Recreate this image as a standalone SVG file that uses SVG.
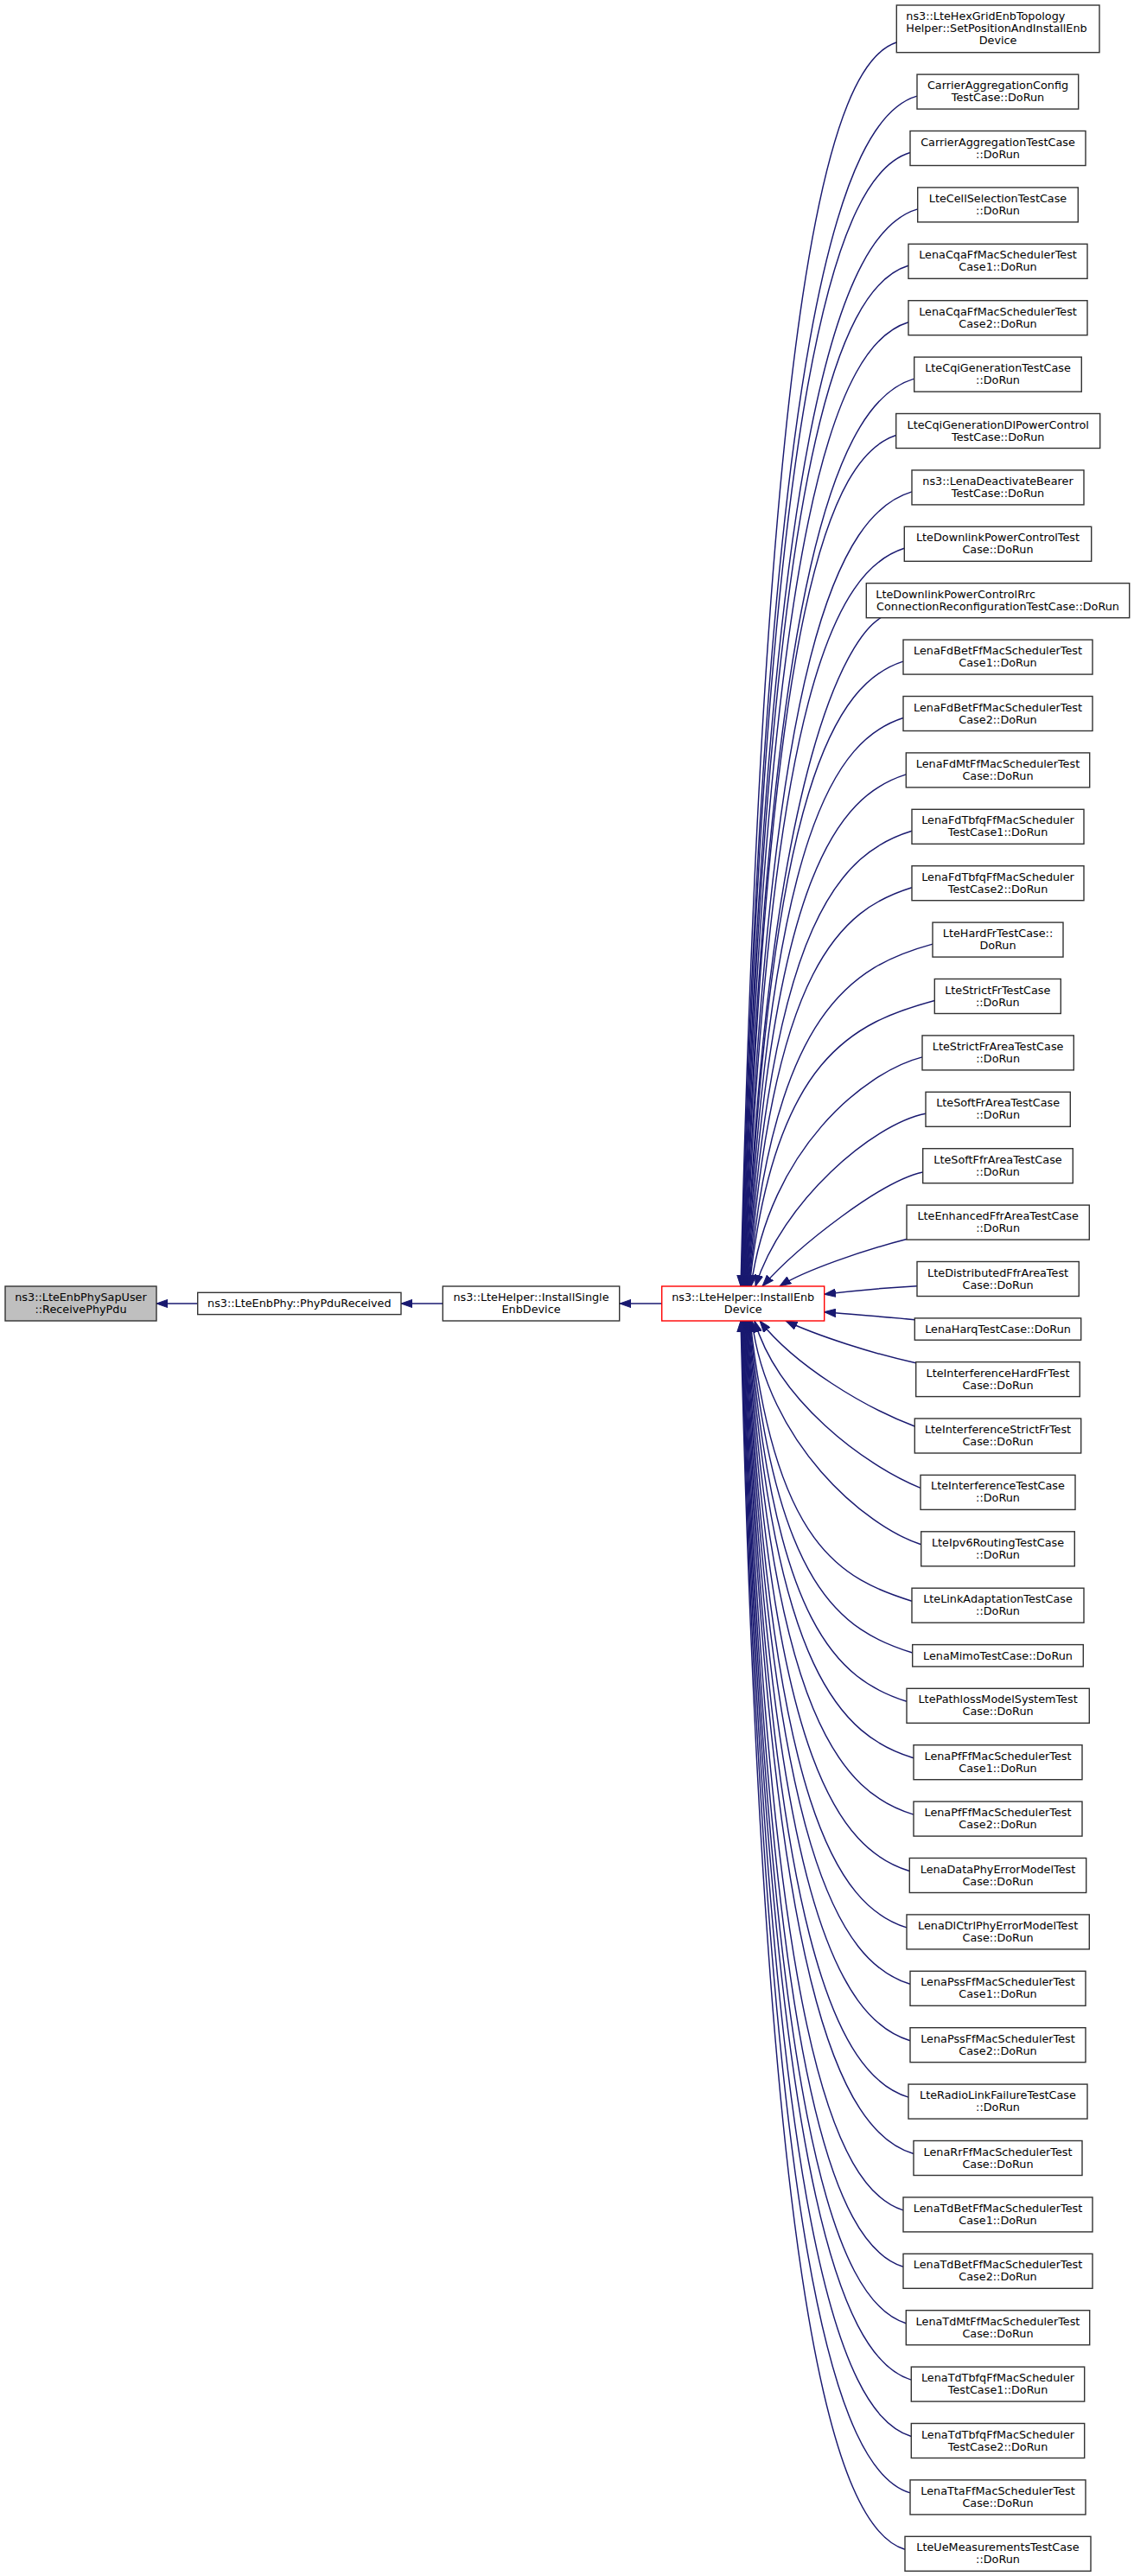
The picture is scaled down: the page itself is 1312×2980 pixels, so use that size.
<svg xmlns="http://www.w3.org/2000/svg" width="1312" height="2980" viewBox="0 0 1312 2980">
<style>
.box{fill:#ffffff;stroke:#333333;stroke-width:1.4}
.root{fill:#bfbfbf;stroke:#333333;stroke-width:1.4}
.main{fill:#ffffff;stroke:#ff0000;stroke-width:1.4}
.t{font-family:"DejaVu Sans","Liberation Sans",sans-serif;font-size:12.8px;fill:#000000;text-anchor:middle}
.s{text-anchor:start}
.e{fill:none;stroke:#191970;stroke-width:1.45;marker-end:url(#ah)}
</style>
<defs>
<marker id="ah" markerUnits="userSpaceOnUse" markerWidth="14" markerHeight="10" viewBox="0 0 14 10" refX="13.3" refY="5" orient="auto">
<path d="M0,0.3 L13.3,5 L0,9.7 Z" fill="#191970" stroke="#191970" stroke-width="1"/>
</marker>
</defs>
<rect x="0" y="0" width="1312" height="2980" fill="#ffffff"/>
<g id="edges">
<path class="e" d="M766,1508 L717,1508"/>
<path class="e" d="M512.3,1508 L464,1508"/>
<path class="e" d="M228.7,1508 L181,1508"/>
<path class="e" d="M1037.3,49 C959.8,74 885,329.6 857,1488"/>
<path class="e" d="M1061,111.1 C973.5,136.1 885.6,379.6 857.6,1488"/>
<path class="e" d="M1053,176.5 C969.2,201.5 886.2,432.2 858.2,1488"/>
<path class="e" d="M1061.7,241.9 C974.5,266.9 886.8,484.9 858.8,1488"/>
<path class="e" d="M1051,307.3 C968.6,332.3 887.4,537.5 859.4,1488"/>
<path class="e" d="M1051,372.7 C968.9,397.7 888,590.2 860,1488"/>
<path class="e" d="M1057.7,438.1 C972.9,463.1 888.6,642.8 860.6,1488"/>
<path class="e" d="M1036.7,503.5 C961.2,528.5 889.2,695.5 861.2,1488"/>
<path class="e" d="M1055,568.9 C971.9,593.9 889.8,748.1 861.8,1488"/>
<path class="e" d="M1046.3,634.3 C967.2,659.3 890.4,800.8 862.4,1488"/>
<path class="e" d="M1019,714.7 C985,735 891,865.5 863,1488"/>
<path class="e" d="M1045,765.1 C967,790.1 891.6,906.1 863.6,1488"/>
<path class="e" d="M1045,830.5 C967.3,855.5 892.2,958.7 864.2,1488"/>
<path class="e" d="M1048.3,895.9 C969.4,920.9 892.8,1011.4 864.8,1488"/>
<path class="e" d="M1055,961.3 C973.5,986.3 893.4,1064 865.4,1488"/>
<path class="e" d="M1055,1026.7 C973.7,1051.7 894,1116.7 866,1488"/>
<path class="e" d="M1079,1092.1 C987.7,1117.1 894.6,1169.3 866.6,1488"/>
<path class="e" d="M1081.3,1157.5 C989.2,1182.5 895.2,1221.9 867.2,1488"/>
<path class="e" d="M1067,1222.9 C1000,1240 890,1330 869,1488"/>
<path class="e" d="M1071,1288.3 C1010,1300 905,1390 874,1488"/>
<path class="e" d="M1067.7,1356 C1020,1366 925,1440 882,1488"/>
<path class="e" d="M1049,1433.5 C1000,1446 930,1470 902,1488"/>
<path class="e" d="M1061,1487.7 C1020,1490 980,1494 953.7,1497.3"/>
<path class="e" d="M1058.3,1526.7 C1020,1523 980,1520 953.7,1517.7"/>
<path class="e" d="M1059.7,1576.7 C1010,1566 945,1545 909,1528"/>
<path class="e" d="M1058.3,1650 C1000,1628 920,1580 879,1528"/>
<path class="e" d="M1065,1721.4 C1000,1695 900,1620 873,1528"/>
<path class="e" d="M1065.7,1786.8 C1000,1765 888,1670 870,1528"/>
<path class="e" d="M1055,1852.2 C974.6,1827.2 896,1789 868,1528"/>
<path class="e" d="M1055.7,1912 C974.7,1887 895.4,1837.1 867.4,1528"/>
<path class="e" d="M1049,1968.3 C970.6,1943.3 894.7,1882.4 866.7,1528"/>
<path class="e" d="M1057,2033.7 C974.9,2008.7 894.1,1935.1 866.1,1528"/>
<path class="e" d="M1057,2099.1 C974.6,2074.1 893.4,1987.7 865.4,1528"/>
<path class="e" d="M1052.3,2164.5 C971.7,2139.5 892.8,2040.4 864.8,1528"/>
<path class="e" d="M1049,2229.9 C969.5,2204.9 892.1,2093 864.1,1528"/>
<path class="e" d="M1053,2295.3 C971.5,2270.3 891.5,2145.7 863.5,1528"/>
<path class="e" d="M1053,2360.7 C971.2,2335.7 890.8,2198.3 862.8,1528"/>
<path class="e" d="M1051,2426.1 C969.8,2401.1 890.2,2251 862.2,1528"/>
<path class="e" d="M1057,2491.5 C972.9,2466.5 889.5,2303.6 861.5,1528"/>
<path class="e" d="M1045,2556.9 C965.8,2531.9 888.9,2356.3 860.9,1528"/>
<path class="e" d="M1045,2622.3 C965.5,2597.3 888.2,2408.9 860.2,1528"/>
<path class="e" d="M1048.3,2687.7 C967.2,2662.7 887.6,2461.6 859.6,1528"/>
<path class="e" d="M1054.3,2753.1 C970.3,2728.1 886.9,2514.2 858.9,1528"/>
<path class="e" d="M1054.3,2818.5 C970,2793.5 886.3,2566.9 858.3,1528"/>
<path class="e" d="M1053,2883.9 C969,2858.9 885.6,2619.5 857.6,1528"/>
<path class="e" d="M1047,2949.3 C965.3,2924.3 885,2672.1 857,1528"/>
</g>
<g id="node_receivephypdu"><rect class="root" x="6" y="1488" width="175" height="40"/><text class="t" x="93.5" y="1505">ns3::LteEnbPhySapUser</text><text class="t" x="93.5" y="1519">::ReceivePhyPdu</text></g>
<g id="node_phypdureceived"><rect class="box" x="228.7" y="1495.3" width="235.3" height="25.3"/><text class="t" x="346.3" y="1512.3">ns3::LteEnbPhy::PhyPduReceived</text></g>
<g id="node_installsingle"><rect class="box" x="512.3" y="1488" width="204.4" height="40"/><text class="t" x="614.5" y="1505">ns3::LteHelper::InstallSingle</text><text class="t" x="614.5" y="1519">EnbDevice</text></g>
<g id="node_installenb"><rect class="main" x="765.7" y="1488" width="188" height="40"/><text class="t" x="859.7" y="1505">ns3::LteHelper::InstallEnb</text><text class="t" x="859.7" y="1519">Device</text></g>
<g id="n1"><rect class="box" x="1037.3" y="6" width="234.7" height="54.7"/><text class="t s" x="1048.3" y="23.4">ns3::LteHexGridEnbTopology</text><text class="t s" x="1048.3" y="37.4">Helper::SetPositionAndInstallEnb</text><text class="t" x="1154.6" y="51.4">Device</text></g>
<g id="n2"><rect class="box" x="1061" y="86.1" width="186.7" height="40"/><text class="t" x="1154.5" y="103.1">CarrierAggregationConfig</text><text class="t" x="1154.5" y="117.1">TestCase::DoRun</text></g>
<g id="n3"><rect class="box" x="1053" y="151.5" width="203" height="40"/><text class="t" x="1154.5" y="168.5">CarrierAggregationTestCase</text><text class="t" x="1154.5" y="182.5">::DoRun</text></g>
<g id="n4"><rect class="box" x="1061.7" y="216.9" width="185.6" height="40"/><text class="t" x="1154.5" y="233.9">LteCellSelectionTestCase</text><text class="t" x="1154.5" y="247.9">::DoRun</text></g>
<g id="n5"><rect class="box" x="1051" y="282.3" width="207" height="40"/><text class="t" x="1154.5" y="299.3">LenaCqaFfMacSchedulerTest</text><text class="t" x="1154.5" y="313.3">Case1::DoRun</text></g>
<g id="n6"><rect class="box" x="1051" y="347.7" width="207" height="40"/><text class="t" x="1154.5" y="364.7">LenaCqaFfMacSchedulerTest</text><text class="t" x="1154.5" y="378.7">Case2::DoRun</text></g>
<g id="n7"><rect class="box" x="1057.7" y="413.1" width="193.6" height="40"/><text class="t" x="1154.5" y="430.1">LteCqiGenerationTestCase</text><text class="t" x="1154.5" y="444.1">::DoRun</text></g>
<g id="n8"><rect class="box" x="1036.7" y="478.5" width="236" height="40"/><text class="t" x="1154.7" y="495.5">LteCqiGenerationDlPowerControl</text><text class="t" x="1154.7" y="509.5">TestCase::DoRun</text></g>
<g id="n9"><rect class="box" x="1055" y="543.9" width="199" height="40"/><text class="t" x="1154.5" y="560.9">ns3::LenaDeactivateBearer</text><text class="t" x="1154.5" y="574.9">TestCase::DoRun</text></g>
<g id="n10"><rect class="box" x="1046.3" y="609.3" width="216.4" height="40"/><text class="t" x="1154.5" y="626.3">LteDownlinkPowerControlTest</text><text class="t" x="1154.5" y="640.3">Case::DoRun</text></g>
<g id="n11"><rect class="box" x="1002.3" y="674.7" width="304.4" height="40"/><text class="t s" x="1013.3" y="691.7">LteDownlinkPowerControlRrc</text><text class="t" x="1154.5" y="705.7">ConnectionReconfigurationTestCase::DoRun</text></g>
<g id="n12"><rect class="box" x="1045" y="740.1" width="219" height="40"/><text class="t" x="1154.5" y="757.1">LenaFdBetFfMacSchedulerTest</text><text class="t" x="1154.5" y="771.1">Case1::DoRun</text></g>
<g id="n13"><rect class="box" x="1045" y="805.5" width="219" height="40"/><text class="t" x="1154.5" y="822.5">LenaFdBetFfMacSchedulerTest</text><text class="t" x="1154.5" y="836.5">Case2::DoRun</text></g>
<g id="n14"><rect class="box" x="1048.3" y="870.9" width="212.4" height="40"/><text class="t" x="1154.5" y="887.9">LenaFdMtFfMacSchedulerTest</text><text class="t" x="1154.5" y="901.9">Case::DoRun</text></g>
<g id="n15"><rect class="box" x="1055" y="936.3" width="199" height="40"/><text class="t" x="1154.5" y="953.3">LenaFdTbfqFfMacScheduler</text><text class="t" x="1154.5" y="967.3">TestCase1::DoRun</text></g>
<g id="n16"><rect class="box" x="1055" y="1001.7" width="199" height="40"/><text class="t" x="1154.5" y="1018.7">LenaFdTbfqFfMacScheduler</text><text class="t" x="1154.5" y="1032.7">TestCase2::DoRun</text></g>
<g id="n17"><rect class="box" x="1079" y="1067.1" width="151" height="40"/><text class="t" x="1154.5" y="1084.1">LteHardFrTestCase::</text><text class="t" x="1154.5" y="1098.1">DoRun</text></g>
<g id="n18"><rect class="box" x="1081.3" y="1132.5" width="146" height="40"/><text class="t" x="1154.3" y="1149.5">LteStrictFrTestCase</text><text class="t" x="1154.3" y="1163.5">::DoRun</text></g>
<g id="n19"><rect class="box" x="1067" y="1197.9" width="175.3" height="40"/><text class="t" x="1154.6" y="1214.9">LteStrictFrAreaTestCase</text><text class="t" x="1154.6" y="1228.9">::DoRun</text></g>
<g id="n20"><rect class="box" x="1071" y="1263.3" width="167.3" height="40"/><text class="t" x="1154.6" y="1280.3">LteSoftFrAreaTestCase</text><text class="t" x="1154.6" y="1294.3">::DoRun</text></g>
<g id="n21"><rect class="box" x="1067.7" y="1328.7" width="173.6" height="40"/><text class="t" x="1154.5" y="1345.7">LteSoftFfrAreaTestCase</text><text class="t" x="1154.5" y="1359.7">::DoRun</text></g>
<g id="n22"><rect class="box" x="1049" y="1394.1" width="211.3" height="40"/><text class="t" x="1154.6" y="1411.1">LteEnhancedFfrAreaTestCase</text><text class="t" x="1154.6" y="1425.1">::DoRun</text></g>
<g id="n23"><rect class="box" x="1061" y="1459.5" width="187.3" height="40"/><text class="t" x="1154.6" y="1476.5">LteDistributedFfrAreaTest</text><text class="t" x="1154.6" y="1490.5">Case::DoRun</text></g>
<g id="n24"><rect class="box" x="1058.3" y="1524.9" width="192.4" height="25.3"/><text class="t" x="1154.5" y="1541.9">LenaHarqTestCase::DoRun</text></g>
<g id="n25"><rect class="box" x="1059.7" y="1575.6" width="189.6" height="40"/><text class="t" x="1154.5" y="1592.6">LteInterferenceHardFrTest</text><text class="t" x="1154.5" y="1606.6">Case::DoRun</text></g>
<g id="n26"><rect class="box" x="1058.3" y="1641" width="192.4" height="40"/><text class="t" x="1154.5" y="1658">LteInterferenceStrictFrTest</text><text class="t" x="1154.5" y="1672">Case::DoRun</text></g>
<g id="n27"><rect class="box" x="1065" y="1706.4" width="179" height="40"/><text class="t" x="1154.5" y="1723.4">LteInterferenceTestCase</text><text class="t" x="1154.5" y="1737.4">::DoRun</text></g>
<g id="n28"><rect class="box" x="1065.7" y="1771.8" width="177.6" height="40"/><text class="t" x="1154.5" y="1788.8">LteIpv6RoutingTestCase</text><text class="t" x="1154.5" y="1802.8">::DoRun</text></g>
<g id="n29"><rect class="box" x="1055" y="1837.2" width="199" height="40"/><text class="t" x="1154.5" y="1854.2">LteLinkAdaptationTestCase</text><text class="t" x="1154.5" y="1868.2">::DoRun</text></g>
<g id="n30"><rect class="box" x="1055.7" y="1902.6" width="197.6" height="25.3"/><text class="t" x="1154.5" y="1919.6">LenaMimoTestCase::DoRun</text></g>
<g id="n31"><rect class="box" x="1049" y="1953.3" width="211.3" height="40"/><text class="t" x="1154.6" y="1970.3">LtePathlossModelSystemTest</text><text class="t" x="1154.6" y="1984.3">Case::DoRun</text></g>
<g id="n32"><rect class="box" x="1057" y="2018.7" width="195" height="40"/><text class="t" x="1154.5" y="2035.7">LenaPfFfMacSchedulerTest</text><text class="t" x="1154.5" y="2049.7">Case1::DoRun</text></g>
<g id="n33"><rect class="box" x="1057" y="2084.1" width="195" height="40"/><text class="t" x="1154.5" y="2101.1">LenaPfFfMacSchedulerTest</text><text class="t" x="1154.5" y="2115.1">Case2::DoRun</text></g>
<g id="n34"><rect class="box" x="1052.3" y="2149.5" width="204.4" height="40"/><text class="t" x="1154.5" y="2166.5">LenaDataPhyErrorModelTest</text><text class="t" x="1154.5" y="2180.5">Case::DoRun</text></g>
<g id="n35"><rect class="box" x="1049" y="2214.9" width="211.3" height="40"/><text class="t" x="1154.6" y="2231.9">LenaDlCtrlPhyErrorModelTest</text><text class="t" x="1154.6" y="2245.9">Case::DoRun</text></g>
<g id="n36"><rect class="box" x="1053" y="2280.3" width="203" height="40"/><text class="t" x="1154.5" y="2297.3">LenaPssFfMacSchedulerTest</text><text class="t" x="1154.5" y="2311.3">Case1::DoRun</text></g>
<g id="n37"><rect class="box" x="1053" y="2345.7" width="203" height="40"/><text class="t" x="1154.5" y="2362.7">LenaPssFfMacSchedulerTest</text><text class="t" x="1154.5" y="2376.7">Case2::DoRun</text></g>
<g id="n38"><rect class="box" x="1051" y="2411.1" width="207" height="40"/><text class="t" x="1154.5" y="2428.1">LteRadioLinkFailureTestCase</text><text class="t" x="1154.5" y="2442.1">::DoRun</text></g>
<g id="n39"><rect class="box" x="1057" y="2476.5" width="195" height="40"/><text class="t" x="1154.5" y="2493.5">LenaRrFfMacSchedulerTest</text><text class="t" x="1154.5" y="2507.5">Case::DoRun</text></g>
<g id="n40"><rect class="box" x="1045" y="2541.9" width="219" height="40"/><text class="t" x="1154.5" y="2558.9">LenaTdBetFfMacSchedulerTest</text><text class="t" x="1154.5" y="2572.9">Case1::DoRun</text></g>
<g id="n41"><rect class="box" x="1045" y="2607.3" width="219" height="40"/><text class="t" x="1154.5" y="2624.3">LenaTdBetFfMacSchedulerTest</text><text class="t" x="1154.5" y="2638.3">Case2::DoRun</text></g>
<g id="n42"><rect class="box" x="1048.3" y="2672.7" width="212.4" height="40"/><text class="t" x="1154.5" y="2689.7">LenaTdMtFfMacSchedulerTest</text><text class="t" x="1154.5" y="2703.7">Case::DoRun</text></g>
<g id="n43"><rect class="box" x="1054.3" y="2738.1" width="200.4" height="40"/><text class="t" x="1154.5" y="2755.1">LenaTdTbfqFfMacScheduler</text><text class="t" x="1154.5" y="2769.1">TestCase1::DoRun</text></g>
<g id="n44"><rect class="box" x="1054.3" y="2803.5" width="200.4" height="40"/><text class="t" x="1154.5" y="2820.5">LenaTdTbfqFfMacScheduler</text><text class="t" x="1154.5" y="2834.5">TestCase2::DoRun</text></g>
<g id="n45"><rect class="box" x="1053" y="2868.9" width="203" height="40"/><text class="t" x="1154.5" y="2885.9">LenaTtaFfMacSchedulerTest</text><text class="t" x="1154.5" y="2899.9">Case::DoRun</text></g>
<g id="n46"><rect class="box" x="1047" y="2934.3" width="215" height="40"/><text class="t" x="1154.5" y="2951.3">LteUeMeasurementsTestCase</text><text class="t" x="1154.5" y="2965.3">::DoRun</text></g>
</svg>
